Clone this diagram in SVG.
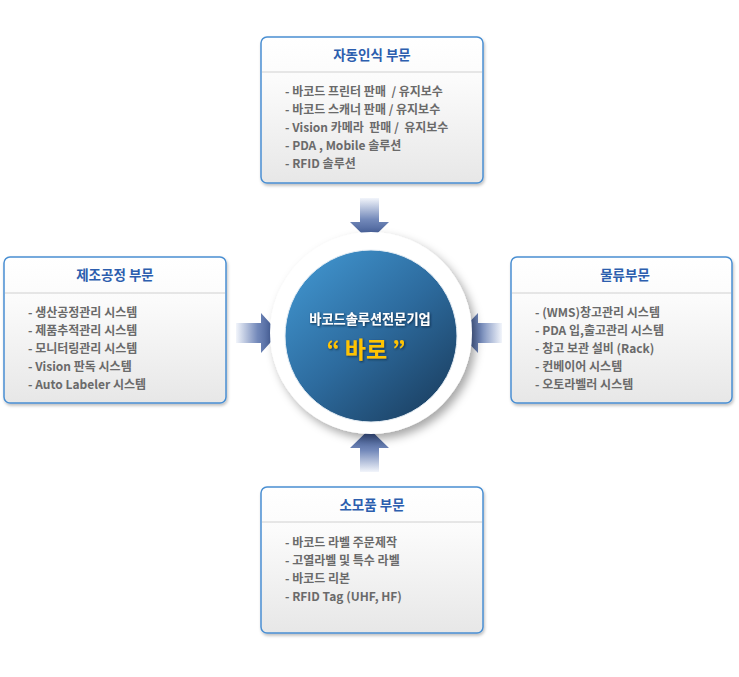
<svg xmlns="http://www.w3.org/2000/svg" width="739" height="677" viewBox="0 0 739 677">
<defs>
<style>
.box{fill:url(#boxg);stroke:#4a8fd2;stroke-width:1.5;filter:url(#bshadow)}
.div{stroke:#d0d0d0;stroke-width:1}
.title{font-family:"Noto Sans CJK KR","Noto Sans",sans-serif;font-weight:bold;font-size:13.5px;fill:#2c5eae;text-anchor:middle;white-space:pre}
.item{font-family:"Noto Sans CJK KR","Noto Sans",sans-serif;font-weight:bold;font-size:12px;fill:#6a6a6a;white-space:pre}
.ctext{font-family:"Noto Sans CJK KR","Noto Sans",sans-serif;font-weight:bold;text-anchor:middle;filter:url(#tshadow);white-space:pre}
</style>
<linearGradient id="boxg" x1="0" y1="0" x2="0" y2="1">
<stop offset="0" stop-color="#ffffff"/>
<stop offset="0.3" stop-color="#fbfbfb"/>
<stop offset="1" stop-color="#e7e7e7"/>
</linearGradient>
<linearGradient id="blueg" x1="0.15" y1="0.1" x2="0.85" y2="0.9">
<stop offset="0" stop-color="#3e8fc8"/>
<stop offset="0.5" stop-color="#2d6b9e"/>
<stop offset="1" stop-color="#1d4468"/>
</linearGradient>
<linearGradient id="agTop" gradientUnits="userSpaceOnUse" x1="0" y1="198" x2="0" y2="241">
<stop offset="0" stop-color="#f2f5fb"/>
<stop offset="0.5" stop-color="#7389ba"/>
<stop offset="1" stop-color="#2f4a86"/>
</linearGradient>
<linearGradient id="agBottom" gradientUnits="userSpaceOnUse" x1="0" y1="472" x2="0" y2="429">
<stop offset="0" stop-color="#f2f5fb"/>
<stop offset="0.5" stop-color="#7389ba"/>
<stop offset="1" stop-color="#2f4a86"/>
</linearGradient>
<linearGradient id="agLeft" gradientUnits="userSpaceOnUse" x1="236" y1="0" x2="279" y2="0">
<stop offset="0" stop-color="#f2f5fb"/>
<stop offset="0.5" stop-color="#7389ba"/>
<stop offset="1" stop-color="#2f4a86"/>
</linearGradient>
<linearGradient id="agRight" gradientUnits="userSpaceOnUse" x1="502" y1="0" x2="459" y2="0">
<stop offset="0" stop-color="#f2f5fb"/>
<stop offset="0.5" stop-color="#7389ba"/>
<stop offset="1" stop-color="#2f4a86"/>
</linearGradient>
<filter id="bshadow" x="-10%" y="-10%" width="120%" height="125%">
<feDropShadow dx="1" dy="2" stdDeviation="1.8" flood-color="#000" flood-opacity="0.25"/>
</filter>
<filter id="cshadow" x="-20%" y="-20%" width="145%" height="145%">
<feDropShadow dx="4" dy="5" stdDeviation="5" flood-color="#000" flood-opacity="0.35"/>
</filter>
<filter id="tshadow" x="-10%" y="-30%" width="120%" height="160%">
<feDropShadow dx="1" dy="1" stdDeviation="0.8" flood-color="#0b2238" flood-opacity="0.8"/>
</filter>
</defs>
<rect width="739" height="677" fill="#ffffff"/>

<g id="connectors">
<polygon points="360,198 379,198 379,222 389,222 369.5,241 350,222 360,222" fill="url(#agTop)"/>
<polygon points="360,472 379,472 379,448 389,448 369.5,429 350,448 360,448" fill="url(#agBottom)"/>
<polygon points="236,323 261,323 261,313 279,333 261,353 261,343 236,343" fill="url(#agLeft)"/>
<polygon points="502,323 478,323 478,313 459,333 478,353 478,343 502,343" fill="url(#agRight)"/>
</g>

<g id="center">
<circle cx="371" cy="333" r="101" fill="#ffffff" filter="url(#cshadow)"/>
<circle cx="371" cy="336" r="86" fill="url(#blueg)" stroke="#e6eef5" stroke-width="1"/>
<text class="ctext" x="370" y="324" font-size="13.2" fill="#ffffff">바코드솔루션전문기업</text>
<text class="ctext" x="366" y="358" font-size="23" fill="#ffc400">“ 바로 ”</text>
</g>

<g id="node-top">
<rect class="box" x="261" y="37" width="222" height="146" rx="6"/>
<line class="div" x1="262" y1="72" x2="482" y2="72"/>
<text class="title" x="372" y="60">자동인식 부문</text>
<text class="item" x="285" y="96">- 바코드 프린터 판매  / 유지보수</text>
<text class="item" x="285" y="114">- 바코드 스캐너 판매 / 유지보수</text>
<text class="item" x="285" y="132">- Vision 카메라  판매 /  유지보수</text>
<text class="item" x="285" y="150">- PDA , Mobile 솔루션</text>
<text class="item" x="285" y="168">- RFID 솔루션</text>
</g>

<g id="node-left">
<rect class="box" x="4" y="257" width="222" height="146" rx="6"/>
<line class="div" x1="5" y1="293" x2="225" y2="293"/>
<text class="title" x="115" y="280">제조공정 부문</text>
<text class="item" x="28" y="317">- 생산공정관리 시스템</text>
<text class="item" x="28" y="335">- 제품추적관리 시스템</text>
<text class="item" x="28" y="353">- 모니터링관리 시스템</text>
<text class="item" x="28" y="371">- Vision 판독 시스템</text>
<text class="item" x="28" y="389">- Auto Labeler 시스템</text>
</g>

<g id="node-right">
<rect class="box" x="511" y="257" width="221" height="146" rx="6"/>
<line class="div" x1="512" y1="293" x2="731" y2="293"/>
<text class="title" x="625" y="280">물류부문</text>
<text class="item" x="535" y="317">- (WMS)창고관리 시스템</text>
<text class="item" x="535" y="335">- PDA 입,출고관리 시스템</text>
<text class="item" x="535" y="353">- 창고 보관 설비 (Rack)</text>
<text class="item" x="535" y="371">- 컨베이어 시스템</text>
<text class="item" x="535" y="389">- 오토라벨러 시스템</text>
</g>

<g id="node-bottom">
<rect class="box" x="261" y="487" width="222" height="146" rx="6"/>
<line class="div" x1="262" y1="522" x2="482" y2="522"/>
<text class="title" x="372" y="510">소모품 부문</text>
<text class="item" x="285" y="547">- 바코드 라벨 주문제작</text>
<text class="item" x="285" y="565">- 고열라벨 및 특수 라벨</text>
<text class="item" x="285" y="583">- 바코드 리본</text>
<text class="item" x="285" y="601">- RFID Tag (UHF, HF)</text>
</g>
</svg>
